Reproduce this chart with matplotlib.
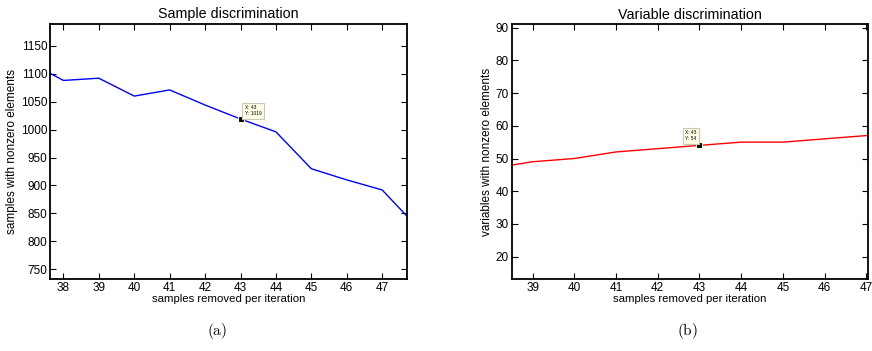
import numpy as np
import matplotlib.pyplot as plt

# sample discrimination (left)
x_samp = [37, 38, 39, 40, 41, 42, 43, 44, 45, 46, 47, 48]
y_samp = [1122, 1088, 1092, 1060, 1071, 1044, 1019, 996, 930, 910, 892, 825]
# variable discrimination (right)
x_var = [38, 39, 40, 41, 42, 43, 44, 45, 46, 47]
y_var = [47, 49, 50, 52, 53, 54, 55, 55, 56, 57]

tip_x = 43
tip_samp = 1019
tip_var = 54

plt.rcParams['mathtext.fontset'] = 'cm'
plt.rcParams['font.family'] = ['Liberation Sans', 'DejaVu Sans']
fig = plt.figure(figsize=(8.72, 3.51), dpi=100)

def style(ax):
    ax.tick_params(direction='in', top=True, right=True, labelsize=8.5, length=4, width=0.8, pad=2)
    for s in ax.spines.values():
        s.set_linewidth(1.3)

ax1 = fig.add_axes([0.0573, 0.2051, 0.4094, 0.7265])
ax1.plot(x_samp, y_samp, color='blue', lw=1)
ax1.set_xlim(37.62, 47.70)
ax1.set_ylim(732.6, 1189)
ax1.set_xticks(range(38, 48))
ax1.set_yticks(range(750, 1151, 50))
ax1.set_title('Sample discrimination', fontsize=10.3, pad=4)
ax1.set_xlabel('samples removed per iteration', fontsize=8.2, labelpad=0)
ax1.set_ylabel('samples with nonzero elements', fontsize=8.5, labelpad=2)
style(ax1)
ax1.plot([tip_x], [tip_samp], 's', color='black', mec='#ffffcc', ms=4.5, mew=0.8)
ax1.annotate('X: %d\nY: %d' % (tip_x, tip_samp), (tip_x, tip_samp), xytext=(3, 2),
             textcoords='offset points', fontsize=3.5, va='bottom', ha='left',
             multialignment='left',
             bbox=dict(boxstyle='square,pad=0.5', fc='#ffffe6', ec='#c8c8b4', lw=0.8))

ax2 = fig.add_axes([0.5868, 0.2043, 0.409, 0.7265])
ax2.plot(x_var, y_var, color='red', lw=1)
ax2.set_xlim(38.5, 47.05)
ax2.set_ylim(13.1, 91)
ax2.set_xticks(range(39, 48))
ax2.set_yticks(range(20, 91, 10))
ax2.set_title('Variable discrimination', fontsize=10.3, pad=4)
ax2.set_xlabel('samples removed per iteration', fontsize=8.2, labelpad=0)
ax2.set_ylabel('variables with nonzero elements', fontsize=8.5, labelpad=2)
style(ax2)
ax2.plot([tip_x], [tip_var], 's', color='black', mec='#ffffcc', ms=4.5, mew=0.8)
ax2.annotate('X: %d\nY: %d' % (tip_x, tip_var), (tip_x, tip_var), xytext=(-2, 3),
             textcoords='offset points', fontsize=3.5, va='bottom', ha='right',
             multialignment='left',
             bbox=dict(boxstyle='square,pad=0.5', fc='#ffffe6', ec='#c8c8b4', lw=0.8))

fig.text(0.249, 0.045, r'$\mathrm{(a)}$', fontsize=11, ha='center')
fig.text(0.788, 0.045, r'$\mathrm{(b)}$', fontsize=11, ha='center')

fig.savefig('out.png', dpi=100)
